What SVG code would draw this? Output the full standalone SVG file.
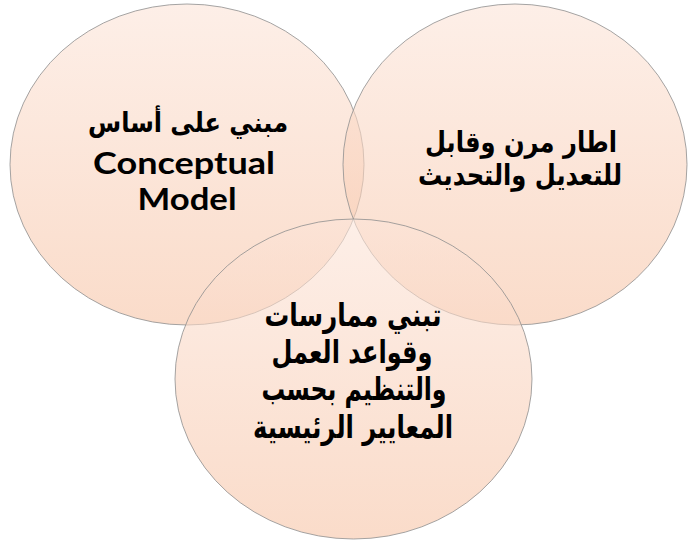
<svg xmlns="http://www.w3.org/2000/svg" width="688" height="541" viewBox="0 0 688 541">
  <defs>
    <!-- soft peach fill, light at the top and warmer towards the bottom -->
    <linearGradient id="peach" x1="0" y1="0" x2="0" y2="1">
      <stop offset="0" stop-color="#fce4d8"/>
      <stop offset="1" stop-color="#f7c4a6"/>
    </linearGradient>
  </defs>
  <style>
    .ring { fill: url(#peach); fill-opacity: 0.6; stroke: #8f8f8f; stroke-opacity: 0.8; stroke-width: 1; }
    .ar { font-family: "DejaVu Sans", sans-serif; font-weight: bold; font-size: 32px; fill: #000; text-anchor: middle; }
    .ar-sm { font-size: 27px; }
    .ar-md { font-size: 29px; }
    .en { font-family: Lato, "Open Sans", "DejaVu Sans", sans-serif; font-weight: bold; font-size: 30px; fill: #000; text-anchor: middle; }
  </style>
  <rect width="688" height="541" fill="#ffffff"/>

  <g id="node-conceptual">
    <ellipse class="ring" cx="187" cy="164.5" rx="177" ry="160.5"/>
    <text class="ar ar-sm" x="188" y="132" textLength="200" lengthAdjust="spacingAndGlyphs">مبني على أساس</text>
    <text class="en" x="184" y="174" textLength="182" lengthAdjust="spacingAndGlyphs">Conceptual</text>
    <text class="en" x="187" y="210" textLength="99" lengthAdjust="spacingAndGlyphs">Model</text>
  </g>

  <g id="node-flexible">
    <ellipse class="ring" cx="515" cy="164.5" rx="172" ry="160.5"/>
    <text class="ar ar-md" x="521" y="152" textLength="192" lengthAdjust="spacingAndGlyphs">اطار مرن وقابل</text>
    <text class="ar ar-md" x="520" y="185" textLength="204" lengthAdjust="spacingAndGlyphs">للتعديل والتحديث</text>
  </g>

  <g id="node-practices">
    <ellipse class="ring" cx="353.5" cy="379" rx="178.5" ry="160"/>
    <text class="ar" x="353" y="326" textLength="177" lengthAdjust="spacingAndGlyphs">تبني ممارسات</text>
    <text class="ar" x="352" y="363" textLength="161" lengthAdjust="spacingAndGlyphs">وقواعد العمل</text>
    <text class="ar" x="354" y="400" textLength="185" lengthAdjust="spacingAndGlyphs">والتنظيم بحسب</text>
    <text class="ar" x="353" y="438" textLength="200" lengthAdjust="spacingAndGlyphs">المعايير الرئيسية</text>
  </g>

  <g id="connectors"/>
</svg>
